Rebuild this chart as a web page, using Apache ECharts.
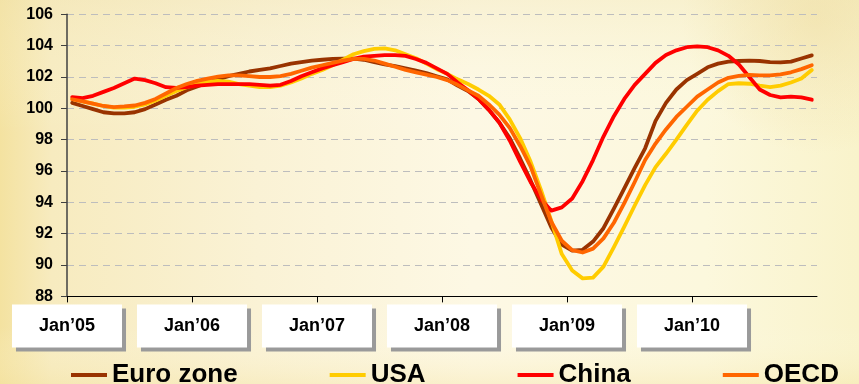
<!DOCTYPE html>
<html>
<head>
<meta charset="utf-8">
<script src="https://cdn.jsdelivr.net/npm/echarts@6/dist/echarts.min.js"></script>
<style>
  html, body { margin: 0; padding: 0; }
  #chart { width: 859px; height: 384px; }
</style>
</head>
<body>
<div id="chart"></div>
<script>
// Monthly leading indicator values, Jan 2005 – Dec 2010
const euroZone = [
  100.35, 100.15, 99.95, 99.75, 99.68, 99.68, 99.75, 99.95, 100.25, 100.55, 100.8, 101.15,
  101.4, 101.65, 101.85, 102.05, 102.2, 102.35, 102.45, 102.55, 102.7, 102.85, 102.95, 103.05,
  103.1, 103.15, 103.17, 103.17, 103.1, 102.95, 102.8, 102.7, 102.55, 102.4, 102.25, 102.05,
  101.85, 101.45, 101.1, 100.6, 99.9, 99.1, 98.1, 96.8, 95.4, 93.9, 92.4, 91.3,
  90.92, 90.97, 91.5, 92.35, 93.6, 94.9, 96.2, 97.45, 99.2, 100.35, 101.2, 101.8,
  102.2, 102.62, 102.85, 102.98, 103.02, 103.04, 103.02, 102.95, 102.93, 102.98, 103.18, 103.38
];
const usa = [
  100.6, 100.45, 100.3, 100.15, 100.05, 100.05, 100.1, 100.25, 100.5, 100.8, 101.1, 101.35,
  101.55, 101.7, 101.75, 101.7, 101.55, 101.45, 101.35, 101.35, 101.45, 101.65, 101.9, 102.2,
  102.45, 102.75, 103.1, 103.45, 103.65, 103.8, 103.82, 103.7, 103.45, 103.2, 102.85, 102.5,
  102.2, 101.85, 101.55, 101.2, 100.8, 100.25, 99.3, 98.1, 96.6, 94.8, 92.8, 90.7,
  89.65, 89.15, 89.2, 89.9, 91.15, 92.45, 93.8, 95.1, 96.25, 97.1, 98.0, 98.95,
  99.85, 100.55, 101.1, 101.55, 101.6, 101.57, 101.45, 101.35, 101.45, 101.65, 101.9, 102.45
];
const china = [
  100.72, 100.65, 100.8, 101.05, 101.3, 101.6, 101.9, 101.8, 101.6, 101.35, 101.3, 101.35,
  101.45, 101.5, 101.55, 101.55, 101.55, 101.55, 101.5, 101.45, 101.5, 101.75, 102.05, 102.3,
  102.55, 102.75, 102.95, 103.15, 103.3, 103.35, 103.4, 103.4, 103.35, 103.15, 102.9, 102.55,
  102.2, 101.65, 101.15, 100.6, 99.9, 99.1, 97.95, 96.6, 95.3, 94.2, 93.47, 93.68,
  94.25, 95.35, 96.7, 98.2, 99.5, 100.6, 101.5, 102.2, 102.9, 103.4, 103.7, 103.9,
  103.95, 103.9, 103.7, 103.35, 102.8, 102.0, 101.2, 100.85, 100.7, 100.75, 100.7, 100.55
];
const oecd = [
  100.58, 100.45, 100.3, 100.15, 100.08, 100.12, 100.18, 100.35, 100.6, 100.95, 101.3, 101.55,
  101.75, 101.9, 102.02, 102.1, 102.1, 102.05, 102.0, 102.0, 102.05, 102.2, 102.4, 102.6,
  102.75, 102.9, 103.05, 103.15, 103.15, 103.05, 102.85, 102.65, 102.45, 102.3, 102.15, 102.0,
  101.8, 101.5, 101.15, 100.8, 100.25, 99.6, 98.75, 97.6, 96.3, 94.5, 92.75, 91.55,
  90.95, 90.8, 91.05, 91.7, 92.7, 93.95, 95.3, 96.7, 97.75, 98.65, 99.45, 100.1,
  100.75, 101.2, 101.65, 101.95, 102.07, 102.13, 102.1, 102.1, 102.17, 102.3, 102.5, 102.75
];
const seriesNames = ['Euro zone', 'USA', 'China', 'OECD'];
const yearLabels = ['Jan’05', 'Jan’06', 'Jan’07', 'Jan’08', 'Jan’09', 'Jan’10'];

const colors = ['#993300', '#FFCC00', '#FF0000', '#FF6600'];
const FONT = '"Liberation Sans", Arial, sans-serif';

// each monthly value sits in the middle of its month on the x scale (months since Jan 2005)
const toPoints = arr => arr.map((v, i) => [i + 0.5, v]);
const allSeries = [euroZone, usa, china, oecd];

const chart = echarts.init(document.getElementById('chart'), null, { renderer: 'canvas' });

chart.setOption({
  animation: false,
  graphic: [
    {
      type: 'rect', z: -10, silent: true,
      shape: { x: 0, y: 0, width: 859, height: 384 },
      style: {
        fill: new echarts.graphic.LinearGradient(0, 0, 1, 0, [
          { offset: 0, color: '#F4E2A0' },
          { offset: 0.06, color: '#F7EBBF' },
          { offset: 0.3, color: '#FAF2D5' },
          { offset: 0.55, color: '#FDF8E4' },
          { offset: 0.82, color: '#FCF8DD' },
          { offset: 1, color: '#F9F3CB' }
        ])
      }
    },
    {
      type: 'rect', z: -9, silent: true,
      shape: { x: 0, y: 0, width: 859, height: 384 },
      style: {
        fill: new echarts.graphic.RadialGradient(0.95, 0.05, 0.35, [
          { offset: 0, color: 'rgba(238,216,150,0.55)' },
          { offset: 1, color: 'rgba(238,216,150,0)' }
        ])
      }
    },
    {
      type: 'rect', z: -9, silent: true,
      shape: { x: 0, y: 0, width: 859, height: 384 },
      style: {
        fill: new echarts.graphic.LinearGradient(0, 0, 0, 1, [
          { offset: 0, color: 'rgba(240,228,180,0.35)' },
          { offset: 0.35, color: 'rgba(255,255,240,0)' },
          { offset: 0.85, color: 'rgba(255,255,240,0)' },
          { offset: 1, color: 'rgba(244,226,160,0.35)' }
        ])
      }
    }
  ],
  grid: { left: 67, right: 42, top: 14.3, bottom: 87.6, containLabel: false },
  legend: {
    data: seriesNames,
    left: 66,
    top: 357,
    icon: 'rect',
    itemWidth: 36,
    itemHeight: 4,
    itemGap: 92,
    textStyle: { fontFamily: FONT, fontSize: 26, fontWeight: 'bold', color: '#000', lineHeight: 26 }
  },
  xAxis: {
    type: 'value',
    min: 0,
    max: 72,
    interval: 12,
    axisLine: { show: true, onZero: false, lineStyle: { color: '#000', width: 1 } },
    axisTick: { show: true, length: 6, lineStyle: { color: '#000', width: 1 } },
    splitLine: { show: false },
    axisLabel: {
      margin: 8,
      showMaxLabel: false,
      formatter: v => yearLabels[Math.round(v / 12)] || '',
      fontFamily: FONT,
      fontSize: 18,
      fontWeight: 'bold',
      color: '#000',
      lineHeight: 21,
      backgroundColor: '#FFFFFF',
      padding: [11, 27, 11, 27],
      shadowColor: '#9A9A9A',
      shadowOffsetX: 4,
      shadowOffsetY: 4,
      shadowBlur: 0
    }
  },
  yAxis: {
    type: 'value',
    min: 88,
    max: 106,
    interval: 2,
    axisLine: { show: true, lineStyle: { color: '#404040', width: 1.5 } },
    axisTick: { show: true, length: 6, lineStyle: { color: '#404040', width: 1 } },
    splitLine: { show: true, lineStyle: { color: '#BDBDBD', width: 1, type: [7, 5] } },
    axisLabel: {
      margin: 14,
      fontFamily: FONT,
      fontSize: 16,
      fontWeight: 'bold',
      color: '#000'
    }
  },
  series: allSeries.map((arr, k) => ({
    name: seriesNames[k],
    type: 'line',
    data: toPoints(arr),
    showSymbol: false,
    symbol: 'none',
    smooth: false,
    lineStyle: { color: colors[k], width: 3.8, join: 'round', cap: 'round' },
    itemStyle: { color: colors[k] }
  }))
});
</script>
</body>
</html>
